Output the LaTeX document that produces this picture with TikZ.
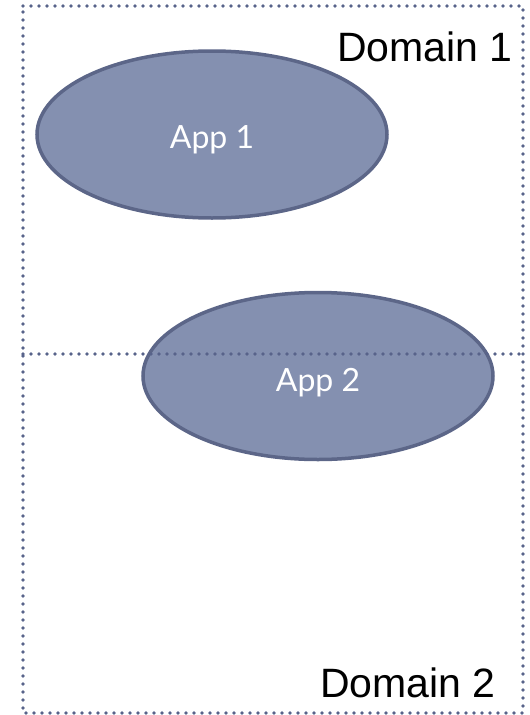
\documentclass[tikz,border=0pt]{standalone}
\usepackage{fontspec}
\setmainfont{Liberation Sans}
\newfontfamily\appfont{Lato}
\usetikzlibrary{shapes.geometric}
\definecolor{appfill}{RGB}{132,144,176}
\definecolor{appdraw}{RGB}{92,102,136}
\definecolor{dotcol}{RGB}{88,99,138}
\tikzset{
  app/.style={ellipse, draw=appdraw, fill=appfill, line width=3.5pt, minimum width=350pt, minimum height=167pt, inner sep=0pt},
  applabel/.style={font=\appfont\fontsize{32}{36}\selectfont, text=white, inner sep=0pt},
  dotline/.style={draw=dotcol, line width=3.6pt, line cap=round, dash pattern=on 0pt off 8pt},
  domlabel/.style={font=\fontsize{41}{48}\selectfont, anchor=base east, inner sep=0pt}
}
\begin{document}
\begin{tikzpicture}[x=1pt,y=-1pt]
\useasboundingbox (0,0) rectangle (530,715);
\node[app] (app1) at (212,134.5) {};
\node[app] (app2) at (318,376) {};
\node[applabel] (t1) at (212,140) {App 1};
\node[applabel] (t2) at (318,383) {App 2};
\coordinate (tl) at (23,6);
\coordinate (tr) at (523,6);
\coordinate (br) at (523,713);
\coordinate (bl) at (23,713);
\coordinate (ml) at (23,354);
\coordinate (mr) at (523,354);
\draw[dotline] (tl) -- (tr) -- (br) -- (bl) -- cycle;
\draw[dotline] (ml) -- (mr);
\node[domlabel] (d1) at (513,61) {Domain 1};
\node[domlabel] (d2) at (496,697) {Domain 2};
\end{tikzpicture}
\end{document}
